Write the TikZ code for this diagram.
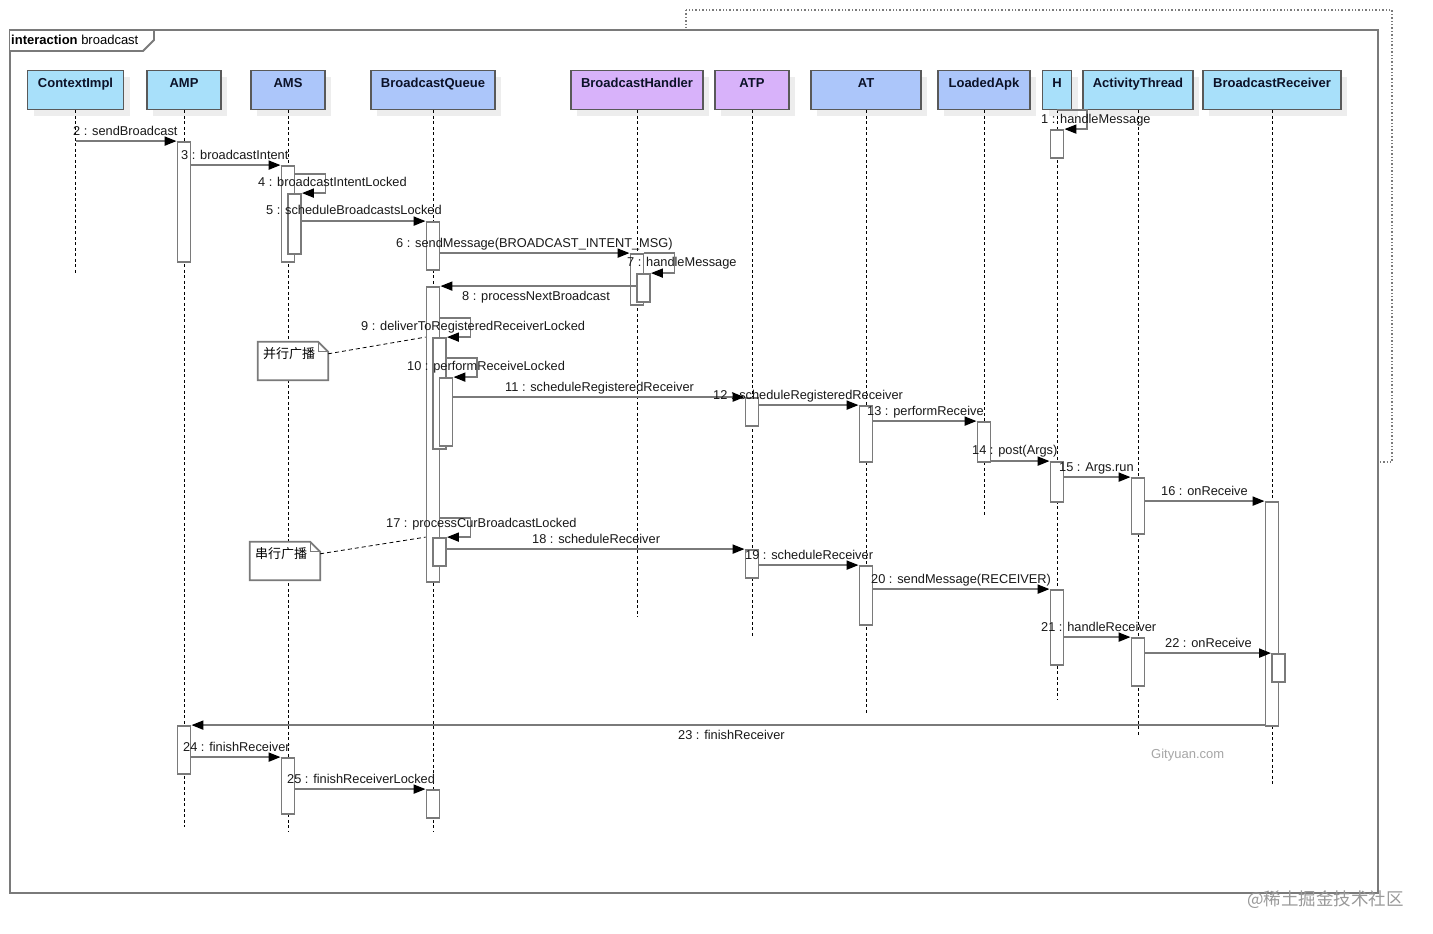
\documentclass[tikz,border=0pt]{standalone}
\usepackage{fontspec}
\setmainfont{Liberation Sans}
\newfontfamily\cjk{Noto Sans CJK SC}
\usetikzlibrary{arrows.meta, shadows}

\definecolor{lifecyan}{RGB}{168,224,250}
\definecolor{lifeblue}{RGB}{172,198,250}
\definecolor{lifepurple}{RGB}{216,178,250}
\definecolor{linegray}{RGB}{122,122,122}
\definecolor{headtext}{RGB}{12,18,40}

\tikzstyle{head} = [rectangle, draw=black!65, line width=1.3pt, minimum height=39pt, inner xsep=0pt, inner ysep=4.5pt, text height=12.5pt, text depth=17.5pt, font=\fontsize{13}{15}\selectfont\bfseries, text=headtext, anchor=north, drop shadow={shadow xshift=6pt, shadow yshift=-6pt, fill=black!7, opacity=1}]
\tikzstyle{life} = [black, line width=0.8pt, dash pattern=on 3pt off 2.5pt]
\tikzstyle{act} = [rectangle, draw=linegray, fill=white, line width=1.8pt, minimum width=13pt, inner sep=0pt]
\tikzstyle{msg} = [draw=linegray, line width=1.8pt, -{Triangle[length=12pt, width=9pt, color=black]}]
\tikzstyle{lbl} = [font=\fontsize{12.8}{15}\selectfont, text=black!90, inner sep=0pt, anchor=base west]
\tikzstyle{note} = [rectangle, minimum width=70pt, minimum height=38pt, text width=60pt, align=left, inner xsep=5pt, inner ysep=3pt, text height=13pt, text depth=19pt, font=\cjk\fontsize{13}{15}\selectfont]
\tikzstyle{notebox} = [draw=linegray, line width=1.8pt, fill=white]
\tikzstyle{notelink} = [black, line width=0.8pt, dash pattern=on 4pt off 3pt]

% activation bar: name, x, top, bottom
\newcommand{\actbar}[4]{\node[act, minimum height={(#4-#3)*1pt}] (#1) at ({#2}, {(#3+#4)/2}) {};}

\begin{document}
\begin{tikzpicture}[x=1pt, y=-1pt]
\useasboundingbox (0,0) rectangle (1433,934);

% frame
\draw[dotted, linegray, line width=1.4pt] (686,10) rectangle (1392,462);
\draw[linegray, line width=1.8pt, fill=white] (10,30) rectangle (1378,893);
\draw[linegray, line width=1.8pt, fill=white] (10,30) -- (154,30) -- (154,40) -- (143,51) -- (10,51);
\node[anchor=base west, inner sep=0pt, font=\fontsize{13}{15}\selectfont] (frametitle) at (11,44.5) {\textbf{interaction} broadcast};

% lifeline heads
\node[head, fill=lifecyan, minimum width=96pt] (ctx) at (75.5,70) {ContextImpl};
\node[head, fill=lifecyan, minimum width=74pt] (amp) at (184,70) {AMP};
\node[head, fill=lifeblue, minimum width=74pt] (ams) at (288,70) {AMS};
\node[head, fill=lifeblue, minimum width=124pt] (bq) at (433,70) {BroadcastQueue};
\node[head, fill=lifepurple, minimum width=132pt] (bh) at (637,70) {BroadcastHandler};
\node[head, fill=lifepurple, minimum width=74pt] (atp) at (752,70) {ATP};
\node[head, fill=lifeblue, minimum width=110pt] (at) at (866,70) {AT};
\node[head, fill=lifeblue, minimum width=92pt] (lapk) at (984,70) {LoadedApk};
\node[head, fill=lifecyan, minimum width=29pt] (h) at (1057,70) {H};
\node[head, fill=lifecyan, minimum width=110pt] (actt) at (1138,70) {ActivityThread};
\node[head, fill=lifecyan, minimum width=138pt] (br) at (1272,70) {BroadcastReceiver};

\foreach \n/\e in {ctx/275, amp/827, ams/831, bq/831, bh/617, atp/638, at/713, lapk/515, h/700, actt/737, br/785}
  \draw[life] (\n.south) -- (\n.south |- 0,\e);

% notes
\node[note] (par) at (293,361) {并行广播};
\draw[notebox] (par.north west) -- ([xshift=-10pt]par.north east) -- ([yshift=-10pt]par.north east) -- (par.south east) -- (par.south west) -- cycle;
\draw[linegray, line width=1.2pt] ([xshift=-10pt]par.north east) -- ([xshift=-10pt,yshift=-10pt]par.north east) -- ([yshift=-10pt]par.north east);
\node[note] (par) at (293,361) {并行广播};
\node[note] (ser) at (285,561) {串行广播};
\draw[notebox] (ser.north west) -- ([xshift=-10pt]ser.north east) -- ([yshift=-10pt]ser.north east) -- (ser.south east) -- (ser.south west) -- cycle;
\draw[linegray, line width=1.2pt] ([xshift=-10pt]ser.north east) -- ([xshift=-10pt,yshift=-10pt]ser.north east) -- ([yshift=-10pt]ser.north east);
\node[note] (ser) at (285,561) {串行广播};

% activations
\actbar{ampA}{184}{142}{262}
\actbar{amsA}{288}{166}{262}
\actbar{amsB}{294.5}{194}{254}
\actbar{bqA}{433}{222}{270}
\actbar{bhA}{637}{254}{305}
\actbar{bhB}{643.5}{274}{302}
\actbar{bqM}{433}{287}{582}
\actbar{bqP}{439.5}{338}{449}
\actbar{bqR}{446}{378}{446}
\actbar{atpA}{752}{398}{426}
\actbar{atA}{866}{406}{462}
\actbar{lapkA}{984}{422}{462}
\actbar{hA}{1057}{130}{158}
\actbar{hB}{1057}{462}{502}
\actbar{acttA}{1138}{478}{534}
\actbar{brA}{1272}{502}{726}
\actbar{bqS}{439.5}{538}{566}
\actbar{atpB}{752}{550}{578}
\actbar{atB}{866}{566}{625}
\actbar{hC}{1057}{590}{665}
\actbar{acttB}{1138}{638}{686}
\actbar{brB}{1278.5}{654}{682}
\actbar{ampB}{184}{726}{774}
\actbar{amsC}{288}{758}{814}
\actbar{bqT}{433}{790}{818}

% note links
\draw[notelink] ([yshift=-12pt]par.north east) -- (bqM.west |- bqP.north);
\draw[notelink] ([yshift=-12pt]ser.north east) -- (bqM.west |- bqS.north);

% messages
\draw[msg] (h.south) -- ++(30,0) |- (hA.north east);
\draw[msg] (ctx |- ampA.north) -- (ampA.north west);
\draw[msg] (ampA.east |- amsA.north) -- (amsA.north west);
\draw[msg] (amsA.east |- 0,174) -- ++(30,0) |- (amsB.north east);
\draw[msg] (amsB.east |- bqA.north) -- (bqA.north west);
\draw[msg] (bqA.east |- bhA.north) -- (bhA.north west);
\draw[msg] (bhA.north east) -- ++(30,0) |- (bhB.north east);
\draw[msg] (bhB.west |- bqM.north) -- (bqM.north east);
\draw[msg] (bqM.east |- 0,318) -- ++(30,0) |- (bqP.north east);
\draw[msg] (bqP.east |- 0,358) -- ++(30,0) |- (bqR.north east);
\draw[msg] (bqR.east |- atpA.north) -- (atpA.north west);
\draw[msg] (atpA.east |- atA.north) -- (atA.north west);
\draw[msg] (atA.east |- lapkA.north) -- (lapkA.north west);
\draw[msg] (lapkA.east |- hB.north) -- (hB.north west);
\draw[msg] (hB.east |- acttA.north) -- (acttA.north west);
\draw[msg] (acttA.east |- brA.north) -- (brA.north west);
\draw[msg] (bqM.east |- 0,518) -- ++(30,0) |- (bqS.north east);
\draw[msg] (bqS.east |- atpB.north) -- (atpB.north west);
\draw[msg] (atpB.east |- atB.north) -- (atB.north west);
\draw[msg] (atB.east |- hC.north) -- (hC.north west);
\draw[msg] (hC.east |- acttB.north) -- (acttB.north west);
\draw[msg] (acttB.east |- brB.north) -- (brB.north west);
\draw[msg] (brA.west |- ampB.north) -- (ampB.north east);
\draw[msg] (ampB.east |- amsC.north) -- (amsC.north west);
\draw[msg] (amsC.east |- bqT.north) -- (bqT.north west);

% message labels
\node[lbl] (l1) at (1041,123.5) {1 : handleMessage};
\node[lbl] (l2) at (73,135.5) {2 : sendBroadcast};
\node[lbl] (l3) at (181,159.5) {3 : broadcastIntent};
\node[lbl] (l4) at (258,186.5) {4 : broadcastIntentLocked};
\node[lbl] (l5) at (266,214.5) {5 : scheduleBroadcastsLocked};
\node[lbl] (l6) at (396,247.5) {6 : sendMessage(BROADCAST\_INTENT\_MSG)};
\node[lbl] (l7) at (627,266.5) {7 : handleMessage};
\node[lbl] (l8) at (462,300.5) {8 : processNextBroadcast};
\node[lbl] (l9) at (361,330.5) {9 : deliverToRegisteredReceiverLocked};
\node[lbl] (l10) at (407,370.5) {10 : performReceiveLocked};
\node[lbl] (l11) at (505,391.5) {11 : scheduleRegisteredReceiver};
\node[lbl] (l12) at (713,399.5) {12 : scheduleRegisteredReceiver};
\node[lbl] (l13) at (867,415.5) {13 : performReceive};
\node[lbl] (l14) at (972,454.5) {14 : post(Args)};
\node[lbl] (l15) at (1059,471.5) {15 : Args.run};
\node[lbl] (l16) at (1161,495.5) {16 : onReceive};
\node[lbl] (l17) at (386,527.5) {17 : processCurBroadcastLocked};
\node[lbl] (l18) at (532,543.5) {18 : scheduleReceiver};
\node[lbl] (l19) at (745,559.5) {19 : scheduleReceiver};
\node[lbl] (l20) at (871,583.5) {20 : sendMessage(RECEIVER)};
\node[lbl] (l21) at (1041,631.5) {21 : handleReceiver};
\node[lbl] (l22) at (1165,647.5) {22 : onReceive};
\node[lbl] (l23) at (678,739.5) {23 : finishReceiver};
\node[lbl] (l24) at (183,751.5) {24 : finishReceiver};
\node[lbl] (l25) at (287,783.5) {25 : finishReceiverLocked};

% watermarks
\node[anchor=base west, inner sep=0pt, font=\fontsize{13}{15}\selectfont, text=black!35] (site) at (1151,758.5) {Gityuan.com};
\node[anchor=base west, inner sep=0pt, font=\cjk\fontsize{17.5}{20}\selectfont, text=black!40] (mark) at (1247,905) {@稀土掘金技术社区};
\end{tikzpicture}
\end{document}
